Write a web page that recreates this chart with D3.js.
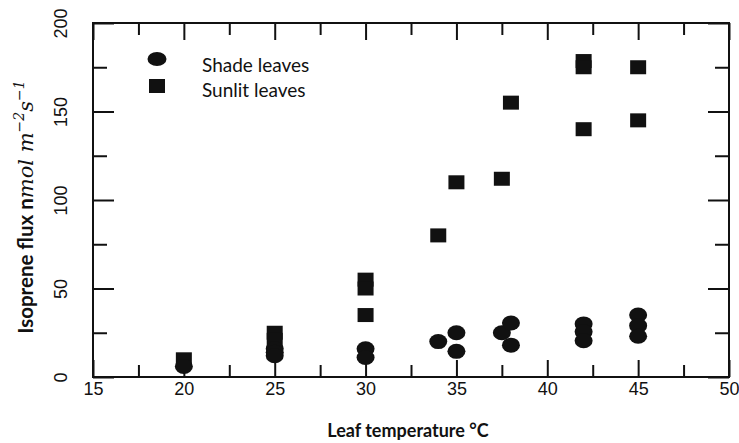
<!DOCTYPE html>
<html>
<head>
<meta charset="utf-8">
<script src="https://cdn.jsdelivr.net/npm/d3@7"></script>
<style>
  body { margin: 0; background: #fff; }
  svg { display: block; font-family: Lato, "Noto Sans", sans-serif; }
</style>
</head>
<body>
<div id="graf"></div>
<script>
// Datos
const shadeTemp = [20, 25, 25, 25, 30, 30, 34, 35, 35, 37.5, 38, 38, 42, 42, 42, 45, 45, 45]
const shadeFlux = [6, 16, 14, 12, 16, 11, 20, 25, 14.5, 25, 30.5, 18, 30, 25.5, 20.5, 35, 29, 23]
const sunTemp = [20, 25, 25, 30, 30, 30, 34, 35, 37.5, 38, 42, 42, 42, 45, 45]
const sunFlux = [10, 25, 21, 55, 50, 35, 80, 110, 112, 155, 178.5, 175, 140, 175, 145]

const xMajor = [15, 20, 25, 30, 35, 40, 45, 50]
const xMinor = [17.5, 22.5, 27.5, 32.5, 37.5, 42.5, 47.5]
const yMajor = [0, 50, 100, 150, 200]
const yMinor = [25, 75, 125, 175]

const ancho_total = 739
const alto_total = 443
const margins = { top: 23, left: 93, right: 10, bottom: 66 }
const ancho = ancho_total - margins.left - margins.right
const alto = alto_total - margins.top - margins.bottom

const svg = d3.select('#graf').append('svg')
  .attr('width', ancho_total)
  .attr('height', alto_total)

const g = svg.append('g')
  .attr('transform', `translate(${margins.left}, ${margins.top})`)

// Escaladores
const x = d3.scaleLinear().domain([15, 50]).range([0, ancho])
const y = d3.scaleLinear().domain([0, 200]).range([alto, 0])

// Ejes (ticks hacia adentro en los cuatro lados)
function estilo(sel) {
  sel.select('.domain').remove()
  sel.selectAll('line').attr('stroke', '#111').attr('stroke-width', 2)
}

g.append('g').attr('transform', `translate(0, ${alto})`)
  .call(d3.axisBottom(x).tickValues(xMinor).tickSize(-12).tickFormat(''))
  .call(estilo)
g.append('g').attr('transform', `translate(0, ${alto})`)
  .call(d3.axisBottom(x).tickValues(xMajor).tickSize(-17).tickPadding(5))
  .call(estilo)
  .selectAll('text')
  .attr('font-size', 18).attr('fill', '#111')

g.append('g')
  .call(d3.axisTop(x).tickValues(xMinor).tickSize(-12).tickFormat(''))
  .call(estilo)
g.append('g')
  .call(d3.axisTop(x).tickValues(xMajor).tickSize(-17).tickFormat(''))
  .call(estilo)

g.append('g')
  .call(d3.axisLeft(y).tickValues(yMinor).tickSize(-14).tickFormat(''))
  .call(estilo)
g.append('g')
  .call(d3.axisLeft(y).tickValues(yMajor).tickSize(-21))
  .call(estilo)
  .selectAll('text')
  .attr('font-size', 18).attr('fill', '#111')
  .attr('x', 0).attr('dy', 0).attr('y', -26)
  .attr('text-anchor', 'middle')
  .attr('transform', 'rotate(-90)')

g.append('g').attr('transform', `translate(${ancho}, 0)`)
  .call(d3.axisRight(y).tickValues(yMinor).tickSize(-14).tickFormat(''))
  .call(estilo)
g.append('g').attr('transform', `translate(${ancho}, 0)`)
  .call(d3.axisRight(y).tickValues(yMajor).tickSize(-21).tickFormat(''))
  .call(estilo)

// marco
g.append('rect')
  .attr('width', ancho).attr('height', alto)
  .attr('fill', 'none').attr('stroke', '#111').attr('stroke-width', 2)

// Puntos: hojas al sol (cuadrados) y a la sombra (circulos)
const sunData = sunTemp.map((t, i) => ({ t: t, v: sunFlux[i] }))
const shadeData = shadeTemp.map((t, i) => ({ t: t, v: shadeFlux[i] }))

g.selectAll('.sun').data(sunData).enter().append('rect')
  .attr('class', 'sun')
  .attr('x', d => x(d.t) - 8).attr('y', d => y(d.v) - 7)
  .attr('width', 16).attr('height', 14)
  .attr('fill', '#111')

g.selectAll('.shade').data(shadeData).enter().append('ellipse')
  .attr('class', 'shade')
  .attr('cx', d => x(d.t)).attr('cy', d => y(d.v))
  .attr('rx', 9).attr('ry', 7.5)
  .attr('fill', '#111')

// Leyenda
const leyenda = svg.append('g')
leyenda.append('ellipse').attr('cx', 157).attr('cy', 59).attr('rx', 9.5).attr('ry', 7).attr('fill', '#111')
leyenda.append('rect').attr('x', 149).attr('y', 79).attr('width', 16).attr('height', 14).attr('fill', '#111')
leyenda.append('text').attr('x', 202).attr('y', 72).attr('font-size', 19).attr('fill', '#111').text('Shade leaves')
leyenda.append('text').attr('x', 202).attr('y', 97).attr('font-size', 19).attr('fill', '#111').text('Sunlit leaves')

// Titulos de ejes
svg.append('text')
  .attr('x', 408).attr('y', 437)
  .attr('text-anchor', 'middle')
  .attr('font-size', 18).attr('font-weight', 'bold').attr('fill', '#111')
  .text('Leaf temperature °C')

const tituloY = svg.append('text')
  .attr('transform', 'translate(33, 207) rotate(-90)')
  .attr('text-anchor', 'middle')
  .attr('font-size', 20.5).attr('font-weight', 'bold').attr('fill', '#111')
tituloY.append('tspan').text('Isoprene flux n')
const mate = { 'font-family': '"DejaVu Serif", serif', 'font-style': 'italic', 'font-weight': 'normal' }
function tspan(txt, size, dy) {
  const t = tituloY.append('tspan').text(txt).attr('font-size', size).attr('dy', dy)
  Object.entries(mate).forEach(([k, v]) => t.attr(k, v))
  return t
}
tspan('mol m', 21, 0)
tspan('\u22122', 14, -9)
tspan('s', 21, 9)
tspan('\u22121', 14, -9)
</script>
</body>
</html>
